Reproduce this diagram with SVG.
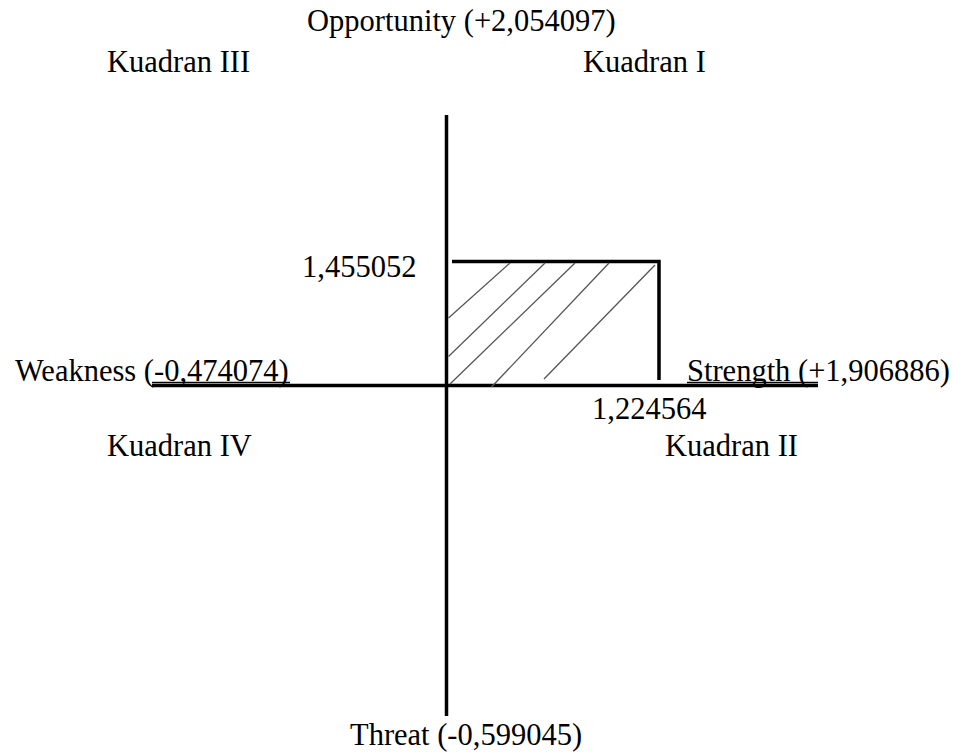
<svg xmlns="http://www.w3.org/2000/svg" width="953" height="754" viewBox="0 0 953 754">
<style>
text{font-family:"Liberation Serif","Times New Roman",serif;font-size:30.5px;fill:#000}
.ax{stroke:#000;stroke-width:3.5;fill:none}
.box{stroke:#000;stroke-width:3.5;fill:none}
.hat{stroke:#555;stroke-width:1.3;fill:none}
.ul{stroke:#000;stroke-width:1.3}
</style>
<rect width="953" height="754" fill="#fff"/>
<g id="connectors">
<line class="ax" x1="446.5" y1="115" x2="446.5" y2="716"/>
<line class="ax" x1="152" y1="385.5" x2="818" y2="385.5"/>
<line class="ul" x1="152" y1="382.5" x2="290" y2="382.5"/>
<line class="ul" x1="687" y1="382.5" x2="818" y2="382.5"/>
</g>
<g id="area">
<polyline class="box" points="452,261.5 659,261.5 659,380"/>
<line class="hat" x1="448.5" y1="318" x2="510" y2="263"/>
<line class="hat" x1="448.5" y1="356.5" x2="545" y2="263"/>
<line class="hat" x1="450" y1="384" x2="575" y2="263"/>
<line class="hat" x1="491.5" y1="387" x2="609" y2="263"/>
<line class="hat" x1="544" y1="379" x2="655" y2="265"/>
</g>
<g id="opportunity"><text x="307" y="31">Opportunity (+2,054097)</text></g>
<g id="kuadran3"><text x="107" y="72">Kuadran III</text></g>
<g id="kuadran1"><text x="583" y="72">Kuadran I</text></g>
<g id="val-y"><text x="302" y="277">1,455052</text></g>
<g id="weakness"><text x="15" y="381">Weakness (-0,474074)</text></g>
<g id="strength"><text x="687" y="381">Strength (+1,906886)</text></g>
<g id="val-x"><text x="592" y="419">1,224564</text></g>
<g id="kuadran4"><text x="107" y="456">Kuadran IV</text></g>
<g id="kuadran2"><text x="665" y="456">Kuadran II</text></g>
<g id="threat"><text x="350" y="745">Threat (-0,599045)</text></g>
</svg>
